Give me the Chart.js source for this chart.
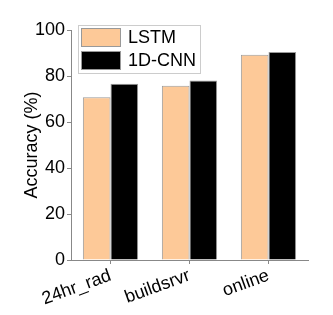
<!DOCTYPE html>
<html>
<head>
<meta charset="utf-8">
<script src="https://cdn.jsdelivr.net/npm/chart.js@4"></script>
<style>
  html, body { margin: 0; padding: 0; background: #ffffff; }
  #wrap { width: 333px; height: 315px; }
</style>
</head>
<body>
<div id="wrap"><canvas id="accChart" width="333" height="315"></canvas></div>
<script>
const categories = ['24hr_rad', 'buildsrvr', 'online'];
const lstmValues = [70.8, 75.8, 89.2];
const cnnValues = [76.6, 78.0, 90.4];
const yTicks = [0, 20, 40, 60, 80, 100];

const FONT = 'Liberation Sans, Arial, sans-serif';

// legend drawn inside the plot, top-left, like the original figure
const innerLegend = {
    id: 'innerLegend',
    afterDraw(chart) {
        const ctx = chart.ctx;
        const x = 78, y = 25, w = 122, h = 48;
        ctx.save();
        ctx.fillStyle = '#ffffff';
        ctx.fillRect(x, y, w, h);
        ctx.strokeStyle = '#cccccc';
        ctx.lineWidth = 1;
        ctx.strokeRect(x + 0.5, y + 0.5, w, h);
        chart.data.datasets.forEach((ds, i) => {
            const sy = y + 3 + i * 23;
            ctx.fillStyle = ds.backgroundColor;
            ctx.fillRect(x + 3, sy, 40, 19);
            ctx.strokeStyle = '#999999';
            ctx.strokeRect(x + 3.5, sy + 0.5, 39, 18);
            ctx.fillStyle = '#000000';
            ctx.font = '18px ' + FONT;
            ctx.textBaseline = 'middle';
            ctx.textAlign = 'left';
            ctx.fillText(ds.label, x + 50, sy + 10);
        });
        ctx.restore();
    }
};

new Chart(document.getElementById('accChart'), {
    type: 'bar',
    data: {
        labels: categories,
        datasets: [{
            label: 'LSTM',
            data: lstmValues,
            backgroundColor: '#fdc998',
            borderColor: '#9a9a9a',
            borderWidth: 1
        }, {
            label: '1D-CNN',
            data: cnnValues,
            backgroundColor: '#000000',
            borderColor: '#9a9a9a',
            borderWidth: 1
        }]
    },
    options: {
        responsive: false,
        animation: false,
        layout: { padding: { top: 30, right: 25, left: 0, bottom: 0 } },
        categoryPercentage: 0.7,
        barPercentage: 1.0,
        plugins: {
            legend: { display: false },
            tooltip: { enabled: false }
        },
        scales: {
            x: {
                afterFit: s => { s.height = 55; },
                grid: {
                    offset: false,
                    drawOnChartArea: false,
                    tickLength: 4,
                    color: '#888888'
                },
                border: { color: '#888888', width: 1 },
                ticks: {
                    color: '#000000',
                    font: { family: FONT, size: 18 },
                    minRotation: 20,
                    maxRotation: 20,
                    padding: 1
                }
            },
            y: {
                min: 0,
                max: 100,
                afterFit: s => { s.width = 71; },
                afterBuildTicks: s => {
                    s.ticks = [];
                    for (let v = 0; v <= 100; v += 10) s.ticks.push({ value: v });
                },
                grid: {
                    drawOnChartArea: false,
                    tickLength: 4,
                    color: ctx => (yTicks.includes(ctx.tick && ctx.tick.value) ? '#888888' : '#c8c8c8')
                },
                border: { color: '#888888', width: 1 },
                ticks: {
                    color: '#000000',
                    font: { family: FONT, size: 18 },
                    padding: 2,
                    callback: v => (yTicks.includes(v) ? v : '')
                },
                title: {
                    display: true,
                    text: 'Accuracy (%)',
                    color: '#000000',
                    font: { family: FONT, size: 18 },
                    padding: { top: 21, bottom: 0 }
                }
            }
        }
    },
    plugins: [innerLegend]
});
</script>
</body>
</html>
